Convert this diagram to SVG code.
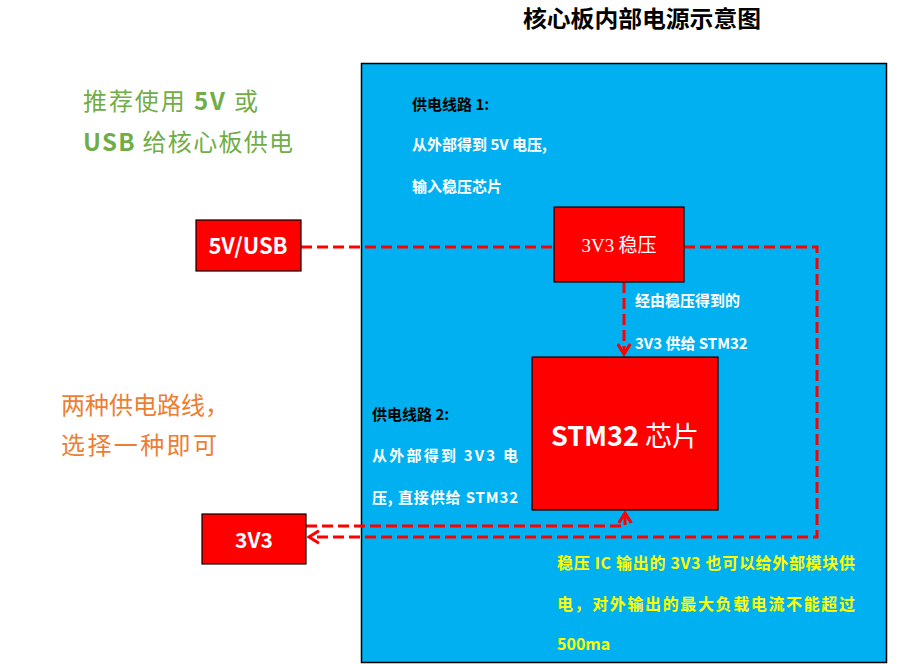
<svg xmlns="http://www.w3.org/2000/svg" width="906" height="665" viewBox="0 0 906 665">
<style>
text{font-family:"Noto Sans CJK SC","Liberation Sans",sans-serif}
.box{fill:#FF0000;stroke:#000;stroke-width:1.2}
.wb{fill:#fff;font-weight:bold}
.bb{fill:#000;font-weight:bold}
.yb{fill:#FFFF00;font-weight:bold;font-size:16px}
.s15{font-size:15px}
.dash{fill:none;stroke:#FF0000;stroke-width:3;stroke-dasharray:11 5}
</style>
<defs>
<marker id="arr" viewBox="0 0 12 12" refX="10" refY="6" markerWidth="5" markerHeight="5" orient="auto" markerUnits="strokeWidth">
<polyline points="2,1 10,6 2,11" fill="none" stroke="#FF0000" stroke-width="2.5"/>
</marker>
</defs>
<rect width="906" height="665" fill="#fff"/>
<text x="642" y="27" text-anchor="middle" font-size="23" class="bb" textLength="238" lengthAdjust="spacingAndGlyphs">核心板内部电源示意图</text>
<g id="note-green" fill="#70AD47" font-size="24">
<text x="83" y="110" textLength="175" lengthAdjust="spacing">推荐使用 <tspan font-weight="bold">5V</tspan> 或</text>
<text x="83" y="151" textLength="210" lengthAdjust="spacing"><tspan font-weight="bold">USB</tspan> 给核心板供电</text>
</g>
<g id="note-orange" fill="#ED7D31" font-size="24">
<text x="61" y="414" textLength="168" lengthAdjust="spacing">两种供电路线，</text>
<text x="61" y="454" textLength="156" lengthAdjust="spacing">选择一种即可</text>
</g>
<g id="board">
<rect x="361.5" y="63.5" width="525" height="599" fill="#00B0F0" stroke="#000" stroke-width="1.5"/>
<text x="412" y="110" class="bb s15">供电线路 1:</text>
<text x="412" y="150" class="wb s15">从外部得到 5V 电压,</text>
<text x="412" y="192" class="wb s15">输入稳压芯片</text>
<text x="372" y="420" class="bb s15">供电线路 2:</text>
<text x="372" y="461" class="wb s15" textLength="146" lengthAdjust="spacing">从外部得到 3V3 电</text>
<text x="372" y="503" class="wb s15" textLength="146" lengthAdjust="spacing">压, 直接供给 STM32</text>
<text x="635" y="306" class="wb s15">经由稳压得到的</text>
<text x="635" y="349" class="wb s15">3V3 供给 STM32</text>
<text x="557" y="569" class="yb" textLength="298" lengthAdjust="spacing">稳压 IC 输出的 3V3 也可以给外部模块供</text>
<text x="557" y="610" class="yb" textLength="298" lengthAdjust="spacing">电，对外输出的最大负载电流不能超过</text>
<text x="557" y="650" class="yb">500ma</text>
</g>
<g id="connectors">
<path class="dash" d="M301,247 H554"/>
<path class="dash" d="M624,282 V354" marker-end="url(#arr)"/>
<path class="dash" d="M684,247 H817 V537 H309" marker-end="url(#arr)"/>
<path class="dash" d="M306,526 H625 V513" marker-end="url(#arr)"/>
</g>
<g id="usb">
<rect class="box" x="196" y="220" width="105" height="51"/>
<text x="248" y="254" text-anchor="middle" class="wb" font-size="22">5V/USB</text>
</g>
<g id="reg">
<rect class="box" x="554" y="207" width="130" height="75"/>
<text x="619" y="252" text-anchor="middle" fill="#fff" font-size="19"><tspan font-family="Liberation Serif">3V3</tspan> 稳压</text>
</g>
<g id="stm32">
<rect class="box" x="532" y="357" width="186" height="153"/>
<text x="625" y="446" text-anchor="middle" fill="#fff" font-size="27"><tspan font-weight="bold">STM32</tspan> 芯片</text>
</g>
<g id="v33">
<rect class="box" x="202" y="514" width="104" height="50"/>
<text x="254" y="548" text-anchor="middle" class="wb" font-size="21">3V3</text>
</g>
</svg>
